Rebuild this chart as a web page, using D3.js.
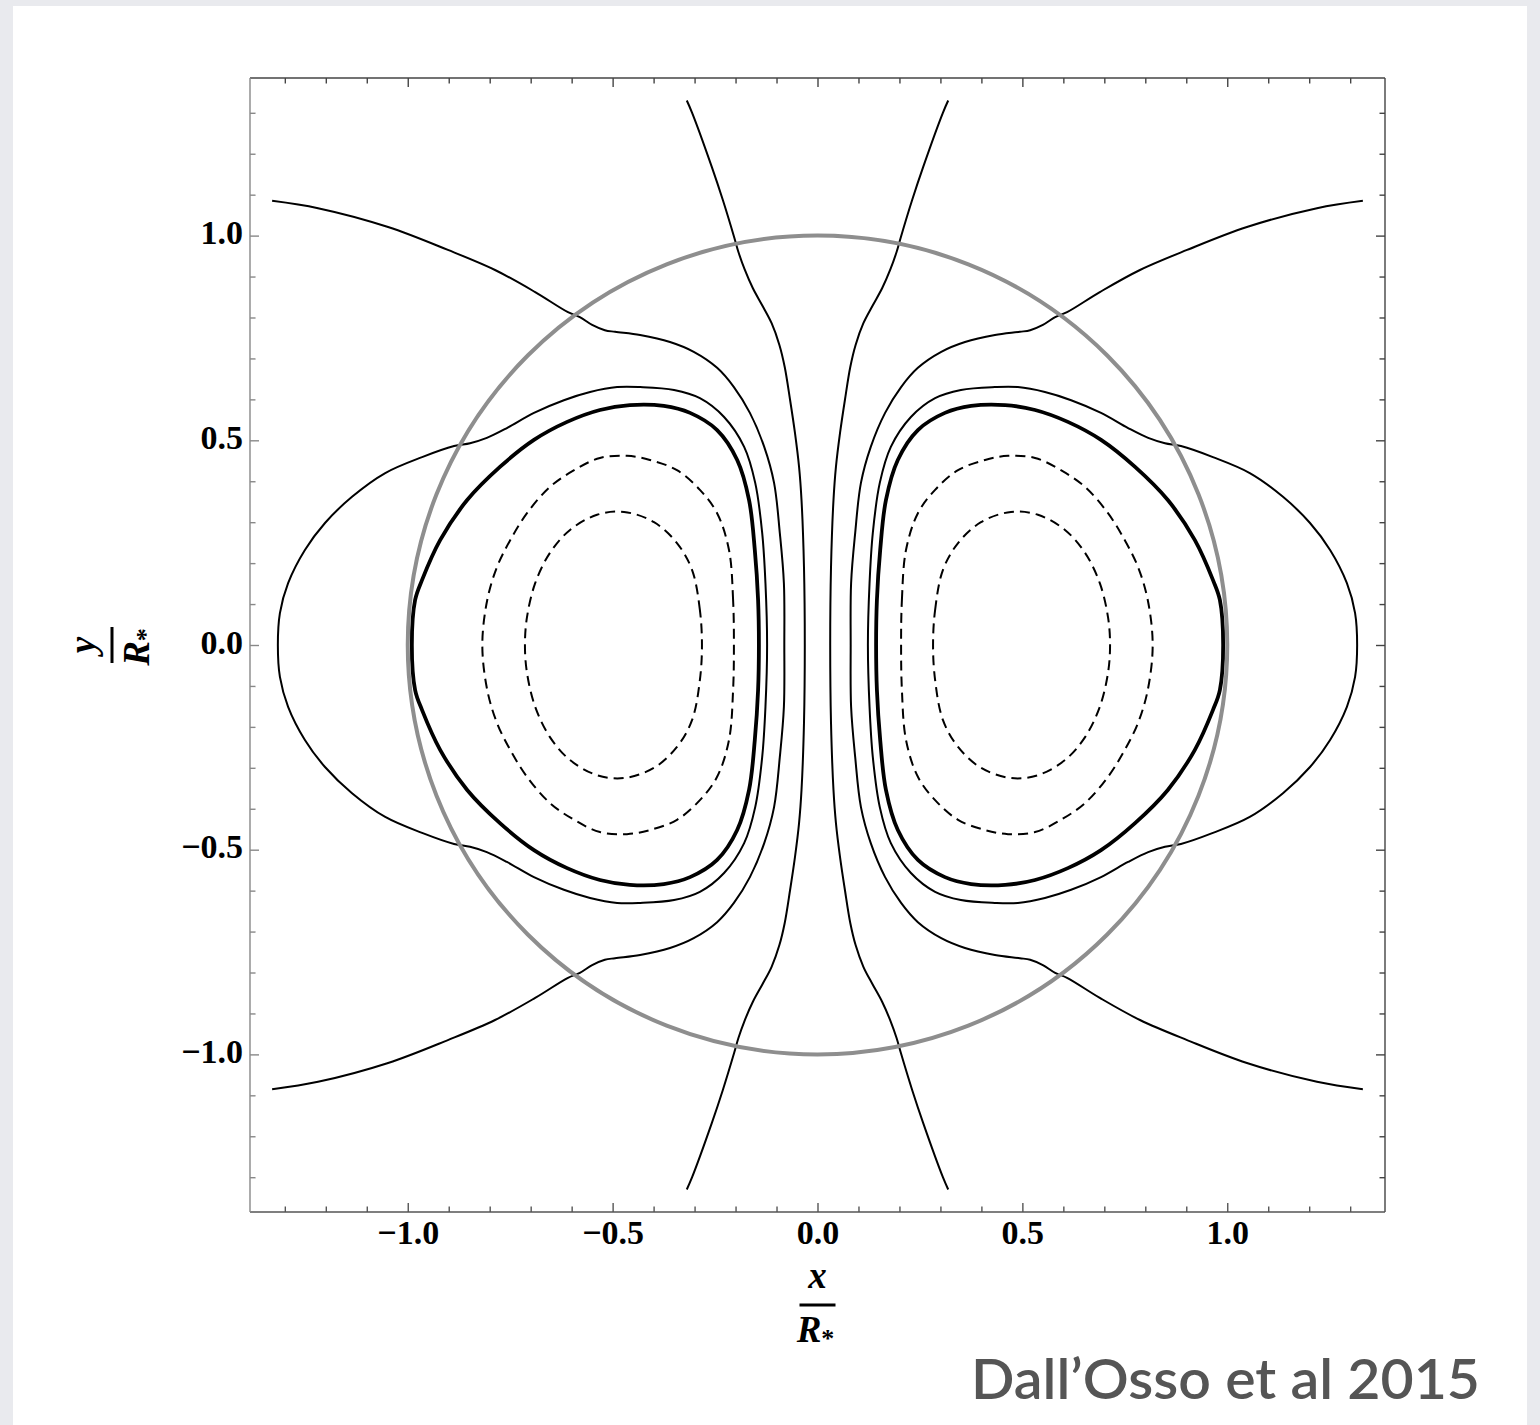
<!DOCTYPE html>
<html>
<head>
<meta charset="utf-8">
<script src="https://cdn.jsdelivr.net/npm/d3@7"></script>
<style>
  html, body { margin: 0; padding: 0; background: #e9eaee; }
  svg { display: block; }
</style>
</head>
<body>
<svg id="chart" width="1540" height="1425"></svg>
<script>
// ---- data (upper-right quadrant traces; the figure is mirror-symmetric in x and y) ----
const majorTicks = [-1.0, -0.5, 0.0, 0.5, 1.0];
const majorTickLabels = ["\u22121.0", "\u22120.5", "0.0", "0.5", "1.0"];
const minorTicks = [-1.3,-1.2,-1.1,-0.9,-0.8,-0.7,-0.6,-0.4,-0.3,-0.2,-0.1,0.1,0.2,0.3,0.4,0.6,0.7,0.8,0.9,1.1,1.2,1.3];
const starRadius = 1.0;

// open field line close to the axis (from top edge down to the equator)
const lineA = [[0.319,1.330],[0.306,1.300],[0.258,1.168],[0.231,1.087],[0.203,0.995],[0.193,0.960],
  [0.178,0.918],[0.158,0.872],[0.134,0.828],[0.112,0.786],[0.093,0.733],[0.080,0.679],[0.067,0.599],
  [0.055,0.518],[0.045,0.435],[0.039,0.354],[0.033,0.191],[0.031,0.000]];
// open field line entering from the outer corner
const lineB = [[1.331,1.085],[1.219,1.067],[1.048,1.021],[0.902,0.965],[0.787,0.916],[0.689,0.862],
  [0.609,0.813],[0.580,0.801],[0.550,0.782],[0.519,0.769],[0.494,0.765],[0.433,0.757],[0.360,0.740],
  [0.302,0.716],[0.245,0.677],[0.204,0.630],[0.165,0.567],[0.130,0.484],[0.106,0.396],[0.092,0.274],
  [0.082,0.151],[0.081,0.000]];
// closed line reaching outside the star (inner equator -> top -> outer equator)
const loopC = [[0.123,0.000],[0.127,0.151],[0.135,0.274],[0.152,0.396],[0.179,0.484],[0.228,0.557],
  [0.287,0.603],[0.350,0.623],[0.433,0.630],[0.489,0.630],[0.555,0.618],[0.619,0.598],[0.692,0.567],
  [0.758,0.530],[0.807,0.506],[0.848,0.493],[0.887,0.486],[0.965,0.459],[1.055,0.420],[1.136,0.362],
  [1.202,0.298],[1.251,0.232],[1.292,0.151],[1.312,0.078],[1.317,0.000]];
// thick last closed line
const loopD = [[0.143,0.000],[0.145,0.110],[0.153,0.232],[0.167,0.354],[0.196,0.452],[0.245,0.525],
  [0.311,0.567],[0.375,0.584],[0.458,0.586],[0.531,0.574],[0.611,0.545],[0.692,0.501],[0.775,0.435],
  [0.855,0.354],[0.921,0.256],[0.965,0.159],[0.982,0.110],[0.990,0.000]];
// dashed torus lines
const dashE = [[0.204,0.000],[0.206,0.110],[0.216,0.232],[0.245,0.322],[0.287,0.379],[0.343,0.427],
  [0.409,0.452],[0.465,0.462],[0.531,0.457],[0.594,0.427],[0.653,0.386],[0.709,0.322],[0.750,0.256],
  [0.782,0.191],[0.806,0.110],[0.818,0.000]];
const dashF = [[0.282,0.000],[0.287,0.085],[0.306,0.183],[0.343,0.249],[0.399,0.300],[0.472,0.325],
  [0.538,0.318],[0.604,0.281],[0.653,0.225],[0.689,0.151],[0.709,0.068],[0.714,0.000]];

// ---- layout ----
const svg = d3.select("#chart");
svg.append("rect").attr("x", 13).attr("y", 6).attr("width", 1514).attr("height", 1419).attr("fill", "#ffffff");

const x = d3.scaleLinear().domain([-1.385, 1.385]).range([250, 1385]);
const y = d3.scaleLinear().domain([-1.385, 1.385]).range([1212, 78]);

// build mirrored curves
function openFull(q) { // top -> equator -> bottom
  const lower = q.slice(0, -1).reverse().map(p => [p[0], -p[1]]);
  return q.concat(lower);
}
function closedFull(q) { // inner eq -> top -> outer eq -> bottom -> (closed)
  const lower = q.slice(1, -1).reverse().map(p => [p[0], -p[1]]);
  return q.concat(lower);
}
const mirrorX = pts => pts.map(p => [-p[0], p[1]]);

const lineGen = d3.line().x(d => x(d[0])).y(d => y(d[1])).curve(d3.curveCatmullRom.alpha(0.5));
const closedGen = d3.line().x(d => x(d[0])).y(d => y(d[1])).curve(d3.curveCatmullRomClosed.alpha(0.5));

const g = svg.append("g");
const curves = [
  {pts: lineA, closed: false, w: 2, dash: null},
  {pts: lineB, closed: false, w: 2, dash: null},
  {pts: loopC, closed: true, w: 2, dash: null},
  {pts: loopD, closed: true, w: 3.8, dash: null},
  {pts: dashE, closed: true, w: 2, dash: "10,6"},
  {pts: dashF, closed: true, w: 2, dash: "10,6"}
];
curves.forEach(c => {
  const full = c.closed ? closedFull(c.pts) : openFull(c.pts);
  [full, mirrorX(full)].forEach(p => {
    g.append("path")
      .attr("d", c.closed ? closedGen(p) : lineGen(p))
      .attr("fill", "none").attr("stroke", "#000")
      .attr("stroke-width", c.w)
      .attr("stroke-linejoin", "round")
      .attr("stroke-dasharray", c.dash);
  });
});

// star surface
svg.append("ellipse")
  .attr("cx", x(0)).attr("cy", y(0))
  .attr("rx", x(starRadius) - x(0)).attr("ry", y(0) - y(starRadius))
  .attr("fill", "none").attr("stroke", "#8e8e8e").attr("stroke-width", 4);

// ---- axes (ticks inward on all four sides) ----
function styleAxis(sel, col) {
  sel.select(".domain").remove();
  sel.selectAll("line").attr("stroke", col).attr("stroke-width", 1.4);
}
const fmt = v => majorTickLabels[majorTicks.indexOf(v)];
const serif = "'Liberation Serif', 'Times New Roman', serif";

const bottomMaj = svg.append("g").attr("transform", `translate(0,${y.range()[0]})`)
  .call(d3.axisBottom(x).tickValues(majorTicks).tickSize(-9).tickSizeOuter(0).tickFormat(fmt));
styleAxis(bottomMaj, "#555");
bottomMaj.selectAll("text").attr("y", 32).attr("dy", 0)
  .attr("font-family", serif).attr("font-weight", "bold")
  .attr("font-size", 34).attr("fill", "#000");
const bottomMin = svg.append("g").attr("transform", `translate(0,${y.range()[0]})`)
  .call(d3.axisBottom(x).tickValues(minorTicks).tickSize(-5.5).tickSizeOuter(0).tickFormat(""));
styleAxis(bottomMin, "#555");

const leftMaj = svg.append("g").attr("transform", `translate(${x.range()[0]},0)`)
  .call(d3.axisLeft(y).tickValues(majorTicks).tickSize(-9).tickSizeOuter(0).tickFormat(fmt).tickPadding(7));
styleAxis(leftMaj, "#888");
leftMaj.selectAll("text").attr("dy", "0.24em")
  .attr("font-family", serif).attr("font-weight", "bold")
  .attr("font-size", 34).attr("fill", "#000");
const leftMin = svg.append("g").attr("transform", `translate(${x.range()[0]},0)`)
  .call(d3.axisLeft(y).tickValues(minorTicks).tickSize(-5.5).tickSizeOuter(0).tickFormat(""));
styleAxis(leftMin, "#888");

const topMaj = svg.append("g").attr("transform", `translate(0,${y.range()[1]})`)
  .call(d3.axisTop(x).tickValues(majorTicks).tickSize(-9).tickSizeOuter(0).tickFormat(""));
styleAxis(topMaj, "#444");
const topMin = svg.append("g").attr("transform", `translate(0,${y.range()[1]})`)
  .call(d3.axisTop(x).tickValues(minorTicks).tickSize(-5.5).tickSizeOuter(0).tickFormat(""));
styleAxis(topMin, "#444");

const rightMaj = svg.append("g").attr("transform", `translate(${x.range()[1]},0)`)
  .call(d3.axisRight(y).tickValues(majorTicks).tickSize(-9).tickSizeOuter(0).tickFormat(""));
styleAxis(rightMaj, "#444");
const rightMin = svg.append("g").attr("transform", `translate(${x.range()[1]},0)`)
  .call(d3.axisRight(y).tickValues(minorTicks).tickSize(-5.5).tickSizeOuter(0).tickFormat(""));
styleAxis(rightMin, "#444");

// frame
const [x0, x1] = x.range(), [y0, y1] = y.range();
svg.append("line").attr("x1", x0).attr("x2", x1).attr("y1", y1).attr("y2", y1).attr("stroke", "#444").attr("stroke-width", 1.4);
svg.append("line").attr("x1", x1).attr("x2", x1).attr("y1", y1).attr("y2", y0).attr("stroke", "#444").attr("stroke-width", 1.4);
svg.append("line").attr("x1", x0).attr("x2", x1).attr("y1", y0).attr("y2", y0).attr("stroke", "#555").attr("stroke-width", 1.4);
svg.append("line").attr("x1", x0).attr("x2", x0).attr("y1", y1).attr("y2", y0).attr("stroke", "#888").attr("stroke-width", 1.4);

// ---- axis titles (fractions x/R*, y/R*) ----
function fraction(gSel, num) {
  gSel.append("text").attr("x", 0).attr("y", -17).attr("text-anchor", "middle")
    .attr("font-family", serif).attr("font-weight", "bold").attr("font-style", "italic")
    .attr("font-size", 37).text(num);
  gSel.append("line").attr("x1", -18).attr("x2", 18).attr("y1", 0).attr("y2", 0)
    .attr("stroke", "#000").attr("stroke-width", 3);
  const t = gSel.append("text").attr("x", -2).attr("y", 37).attr("text-anchor", "middle")
    .attr("font-family", serif).attr("font-weight", "bold").attr("font-style", "italic").attr("font-size", 37);
  t.append("tspan").text("R");
  t.append("tspan").attr("font-size", 26).attr("dy", 5).attr("font-style", "normal").text("*");
}
fraction(svg.append("g").attr("transform", `translate(${x(0)},1305)`), "x");
fraction(svg.append("g").attr("transform", `translate(112,${y(0)}) rotate(-90)`), "y");

// ---- credit ----
svg.append("text").attr("x", 971).attr("y", 1399)
  .attr("font-family", "Lato, 'Open Sans', sans-serif").attr("font-size", 56).attr("font-weight", 600)
  .attr("fill", "#555555").attr("textLength", 509).attr("lengthAdjust", "spacingAndGlyphs")
  .text("Dall\u2019Osso et al 2015");
</script>
</body>
</html>
